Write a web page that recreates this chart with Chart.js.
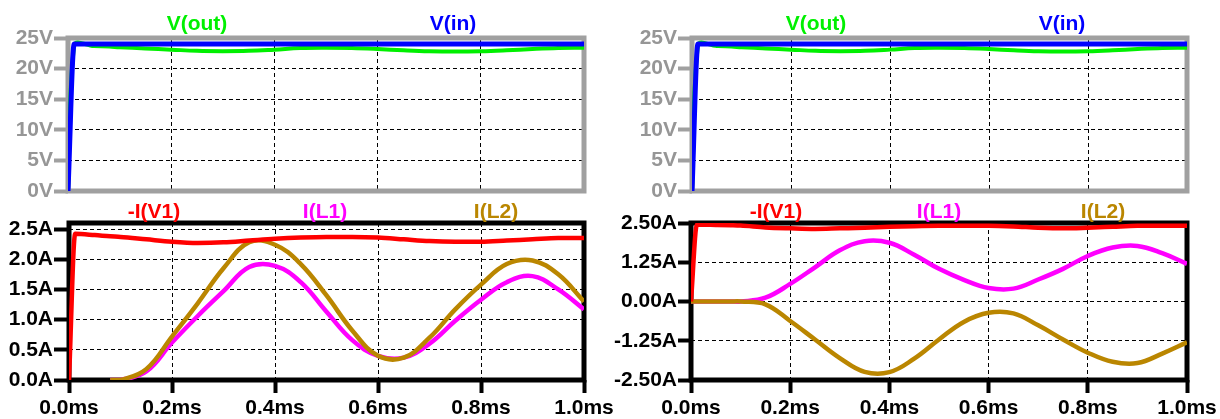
<!DOCTYPE html>
<html>
<head>
<meta charset="utf-8">
<script src="https://cdn.jsdelivr.net/npm/chart.js@4.4.0/dist/chart.umd.min.js"></script>
<style>
  body { margin: 0; background: #fff; width: 1220px; height: 419px; position: relative; overflow: hidden; }
  canvas { position: absolute; }
  .lbl { position: absolute; font: bold 21px "Liberation Sans", Arial, sans-serif; line-height: 21px;
         transform: translateX(-50%); white-space: nowrap; z-index: 2; }
</style>
</head>
<body>
<canvas id="vLeft" width="640" height="215" style="left:0;top:0"></canvas>
<canvas id="iLeft" width="640" height="224" style="left:0;top:195px"></canvas>
<canvas id="vRight" width="610" height="215" style="left:610px;top:0"></canvas>
<canvas id="iRight" width="610" height="224" style="left:610px;top:195px"></canvas>

<div class="lbl" style="left:197px;top:12px;color:#00f000">V(out)</div>
<div class="lbl" style="left:453px;top:12px;color:#0000ff">V(in)</div>
<div class="lbl" style="left:154px;top:200px;color:#ff0000">-I(V1)</div>
<div class="lbl" style="left:325px;top:200px;color:#ff00ff">I(L1)</div>
<div class="lbl" style="left:496px;top:200px;color:#ba8600">I(L2)</div>
<div class="lbl" style="left:816px;top:12px;color:#00f000">V(out)</div>
<div class="lbl" style="left:1062px;top:12px;color:#0000ff">V(in)</div>
<div class="lbl" style="left:776px;top:200px;color:#ff0000">-I(V1)</div>
<div class="lbl" style="left:939px;top:200px;color:#ff00ff">I(L1)</div>
<div class="lbl" style="left:1103px;top:200px;color:#ba8600">I(L2)</div>

<script>
// time axis in ms
const timeMs = [0, 0.012, 0.05, 0.08, 0.1, 0.15, 0.2, 0.25, 0.3, 0.35, 0.4, 0.45,
                0.5, 0.55, 0.6, 0.65, 0.7, 0.75, 0.8, 0.85, 0.9, 0.95, 1.0];

// voltages (same in both runs)
const vIn  = [0, 24, 24, 24, 24, 24, 24, 24, 24, 24, 24, 24,
              24, 24, 24, 24, 24, 24, 24, 24, 24, 24, 24];
const vOut = [0, 23.8, 23.7, 23.6, 23.5, 23.3, 23.1, 22.9, 22.85, 22.9, 23.1, 23.35,
              23.4, 23.35, 23.2, 23.0, 22.85, 22.8, 22.85, 23.0, 23.2, 23.35, 23.4];

// currents, left run
const iV1Left = [0, 2.42, 2.4, 2.38, 2.37, 2.33, 2.29, 2.27, 2.28, 2.31, 2.34, 2.36,
                 2.37, 2.37, 2.36, 2.33, 2.3, 2.29, 2.29, 2.31, 2.33, 2.35, 2.35];
const iL1Left = [null, null, null, 0, 0, 0.14, 0.62, 1.06, 1.47, 1.87, 1.89, 1.62,
                 1.13, 0.66, 0.4, 0.37, 0.6, 0.98, 1.33, 1.62, 1.72, 1.5, 1.17];
const iL2Left = [null, null, null, 0, 0, 0.18, 0.72, 1.27, 1.85, 2.28, 2.24, 1.92,
                 1.4, 0.82, 0.4, 0.37, 0.7, 1.17, 1.58, 1.92, 1.98, 1.75, 1.3];

// currents, right run
const iV1Right = [0, 2.45, 2.44, 2.43, 2.42, 2.36, 2.33, 2.31, 2.33, 2.35, 2.38, 2.4,
                  2.41, 2.41, 2.41, 2.39, 2.35, 2.33, 2.35, 2.38, 2.41, 2.41, 2.41];
const iL1Right = [0, 0, 0, 0, 0, 0.12, 0.56, 1.09, 1.63, 1.92, 1.87, 1.49,
                  1.04, 0.69, 0.43, 0.41, 0.7, 1.04, 1.45, 1.72, 1.77, 1.54, 1.2];
const iL2Right = [0, 0, 0, 0, 0, -0.09, -0.62, -1.21, -1.8, -2.24, -2.25, -1.82,
                  -1.21, -0.65, -0.36, -0.38, -0.76, -1.21, -1.63, -1.92, -1.96, -1.66, -1.3];

const FONT = '"Liberation Sans", Arial, sans-serif';
const GRAY = 'rgb(160,160,160)';
const GOLD = 'rgb(186,134,0)';

function pts(ys) {
    return timeMs.map((t, i) => ({ x: t, y: ys[i] }));
}

// step-like traces keep monotone curves, the ringing ones get a softer bezier
function line(ys, color, width, smooth) {
    const ds = {
        data: pts(ys), borderColor: color, borderWidth: width || 4.5,
        pointRadius: 0, fill: false
    };
    if (smooth) ds.tension = 0.4;
    else ds.cubicInterpolationMode = 'monotone';
    return ds;
}

// thick box round the plot area, like the LTspice pane frame
const frameBox = {
    id: 'frameBox',
    beforeDatasetsDraw(chart, args, opts) {
        const a = chart.chartArea, ctx = chart.ctx;
        ctx.save();
        ctx.strokeStyle = opts.color;
        ctx.lineWidth = 5;
        ctx.strokeRect(a.left, a.top, a.right - a.left, a.bottom - a.top);
        ctx.restore();
    }
};

function makePanel(id, p) {
    return new Chart(document.getElementById(id), {
        type: 'line',
        data: { datasets: p.datasets },
        plugins: [frameBox],
        options: {
            responsive: false,
            animation: false,
            devicePixelRatio: 1,
            layout: { padding: { top: p.padTop, right: p.padRight, left: 0, bottom: 0 } },
            plugins: {
                legend: { display: false },
                tooltip: { enabled: false },
                frameBox: { color: p.axisColor }
            },
            scales: {
                x: {
                    type: 'linear', min: 0, max: 1,
                    afterFit: s => { s.height = p.xHeight; },
                    grid: {
                        color: '#000', lineWidth: 1, drawTicks: p.showX,
                        tickLength: 13, tickWidth: 4, tickColor: p.axisColor
                    },
                    border: { display: false, dash: [4, 3] },
                    ticks: {
                        display: p.showX, stepSize: 0.2, padding: 3, autoSkip: false, maxRotation: 0,
                        color: p.labelColor, font: { family: FONT, size: 21, weight: 'bold' },
                        callback: v => Number(v).toFixed(1) + 'ms'
                    }
                },
                y: {
                    min: p.yMin, max: p.yMax,
                    afterFit: s => { s.width = p.yWidth; },
                    grid: {
                        color: '#000', lineWidth: 1,
                        tickLength: p.tickLen, tickWidth: 4, tickColor: p.axisColor
                    },
                    border: { display: false, dash: [4, 3] },
                    ticks: {
                        stepSize: p.yStep, padding: 1, autoSkip: false, includeBounds: false,
                        color: p.labelColor, font: { family: FONT, size: 21, weight: 'bold' },
                        callback: p.yFmt
                    }
                }
            }
        }
    });
}

makePanel('vLeft', {
    datasets: [line(vIn, '#0000ff', 5), line(vOut, '#00f000', 4, true)],
    yMin: 0, yMax: 25, yStep: 5, yFmt: v => v + 'V',
    yWidth: 68, xHeight: 24, padTop: 38, padRight: 56, tickLen: 14,
    axisColor: GRAY, labelColor: 'rgb(150,150,150)', showX: false
});

makePanel('iLeft', {
    datasets: [line(iV1Left, '#ff0000'), line(iL2Left, GOLD, 4.5, true), line(iL1Left, '#ff00ff', 4.5, true)],
    yMin: 0, yMax: 2.6, yStep: 0.5, yFmt: v => Number(v).toFixed(1) + 'A',
    yWidth: 69, xHeight: 39, padTop: 28, padRight: 56, tickLen: 15,
    axisColor: '#000', labelColor: '#000', showX: true
});

makePanel('vRight', {
    datasets: [line(vIn, '#0000ff', 5), line(vOut, '#00f000', 4, true)],
    yMin: 0, yMax: 25, yStep: 5, yFmt: v => v + 'V',
    yWidth: 82, xHeight: 24, padTop: 38, padRight: 33, tickLen: 14,
    axisColor: GRAY, labelColor: 'rgb(150,150,150)', showX: false
});

makePanel('iRight', {
    datasets: [line(iV1Right, '#ff0000'), line(iL2Right, GOLD, 4.5, true), line(iL1Right, '#ff00ff', 4.5, true)],
    yMin: -2.5, yMax: 2.5, yStep: 1.25, yFmt: v => Number(v).toFixed(2) + 'A',
    yWidth: 81, xHeight: 39, padTop: 28, padRight: 33, tickLen: 13,
    axisColor: '#000', labelColor: '#000', showX: true
});
</script>
</body>
</html>
